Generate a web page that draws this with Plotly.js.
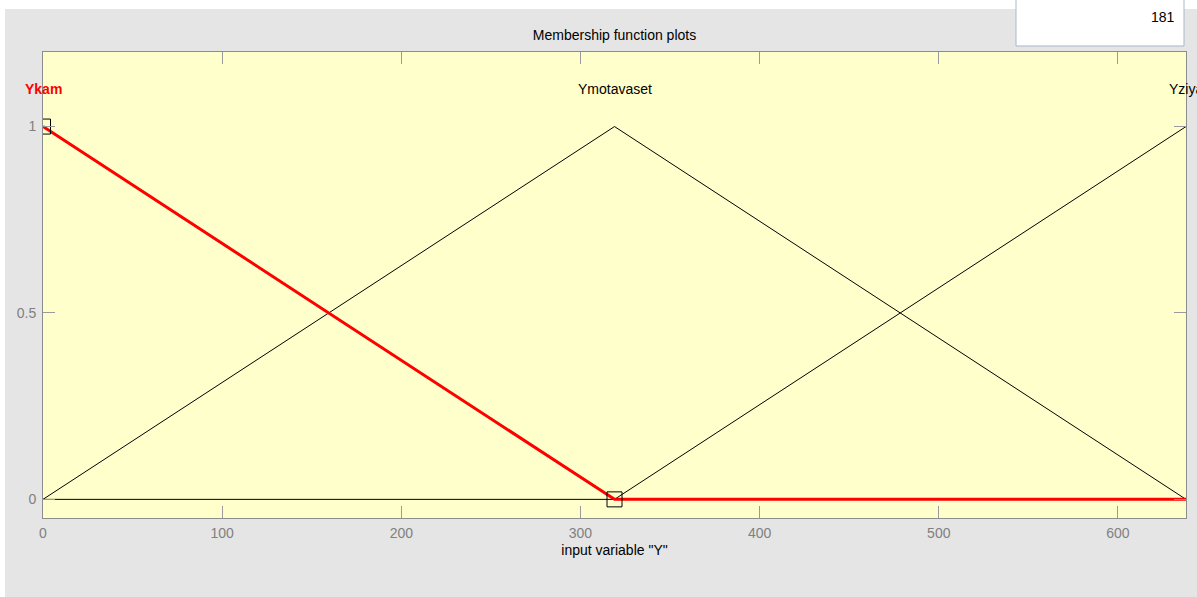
<!DOCTYPE html>
<html>
<head>
<meta charset="utf-8">
<script src="https://cdn.plot.ly/plotly-3.0.1.min.js"></script>
<style>
  html, body { margin: 0; padding: 0; background: #ffffff; }
  #chart { width: 1197px; height: 597px; }
</style>
</head>
<body>
<div id="chart"></div>
<script>
// Membership functions of the input variable "Y" (triangular, defined by vertices)
const mfNames = ['Ykam', 'Ymotavaset', 'Yziya'];
const mfX = [0, 319, 638];
const ykamY = [1, 0, 0];
const ymotavasetY = [0, 1, 0];
const yziyaY = [0, 0, 1];

// Vertices of the selected function (Ykam) that carry the edit handles
const handleX = [0, 319];
const handleY = [1, 0];

const xTicks = [0, 100, 200, 300, 400, 500, 600];
const yTicks = [0, 0.5, 1];
const yTickText = ['0', '0.5', '1'];
const pointCount = '181';

const W = 1197, H = 597;
const M = { l: 43, r: 11, t: 52, b: 79 };
const plotW = W - M.l - M.r, plotH = H - M.t - M.b;
// pixel -> paper coordinates helpers
const px = v => (v - M.l) / plotW;
const py = v => (H - M.b - v) / plotH;

const FONT = '"Liberation Sans", Arial, sans-serif';
const FS = 14;

const traces = [
  { x: mfX, y: yziyaY, name: mfNames[2], mode: 'lines',
    line: { color: '#000000', width: 1 } },
  { x: mfX, y: ymotavasetY, name: mfNames[1], mode: 'lines',
    line: { color: '#000000', width: 1 } },
  { x: mfX, y: ykamY, name: mfNames[0], mode: 'lines',
    line: { color: '#ff0000', width: 3 } },
  { x: handleX, y: handleY, mode: 'markers',
    marker: { symbol: 'square-open', size: 15, color: '#000000', line: { width: 1, color: '#000000' } } }
];

const annotations = [
  { x: mfX[0], y: 1.1, text: '<b>' + mfNames[0] + '</b>', font: { color: '#ff0000', size: FS } },
  { x: mfX[1], y: 1.1, text: mfNames[1], font: { color: '#000000', size: FS } },
  { x: mfX[2], y: 1.1, text: mfNames[2], font: { color: '#000000', size: FS } }
].map(a => Object.assign({ xref: 'x', yref: 'y', showarrow: false, xanchor: 'center', yanchor: 'middle' }, a));

annotations.push({
  xref: 'paper', yref: 'paper', x: px(1177), y: py(17), xanchor: 'right', yanchor: 'middle',
  text: pointCount, showarrow: false, font: { color: '#000000', size: FS }
});

const shapes = [
  // grey panel behind the figure
  { type: 'rect', xref: 'paper', yref: 'paper', layer: 'below',
    x0: px(5), x1: px(W + 5), y0: py(H + 5), y1: py(9),
    fillcolor: '#e5e5e5', line: { width: 0 } },
  // pale yellow axes area
  { type: 'rect', xref: 'paper', yref: 'paper', layer: 'below',
    x0: 0, x1: 1, y0: 0, y1: 1,
    fillcolor: '#ffffcc', line: { width: 0 } },
  // point-count edit box
  { type: 'rect', xref: 'paper', yref: 'paper', layer: 'above',
    x0: px(1016), x1: px(1184), y0: py(46), y1: py(-5),
    fillcolor: '#ffffff', line: { color: '#a7b7cd', width: 1 } }
];

const axisCommon = {
  showgrid: false, zeroline: false, showline: true, mirror: 'ticks',
  linecolor: '#8c8c8c', linewidth: 1,
  ticks: 'inside', ticklen: 12, tickcolor: '#9a9a9a', tickwidth: 1,
  tickfont: { family: FONT, size: FS, color: '#808080' }
};

const layout = {
  width: W, height: H,
  margin: M,
  paper_bgcolor: '#ffffff',
  plot_bgcolor: 'rgba(0,0,0,0)',
  showlegend: false,
  font: { family: FONT, size: FS, color: '#000000' },
  title: {
    text: 'Membership function plots',
    font: { family: FONT, size: FS, color: '#000000' },
    xref: 'paper', x: 0.5, xanchor: 'center',
    yref: 'container', y: 1 - 35 / H, yanchor: 'middle'
  },
  xaxis: Object.assign({}, axisCommon, {
    range: [0, 638], tickvals: xTicks, ticklabelstandoff: 2,
    title: { text: 'input variable "Y"', font: { family: FONT, size: FS, color: '#000000' }, standoff: 5 }
  }),
  yaxis: Object.assign({}, axisCommon, {
    range: [-0.05, 1.2], tickvals: yTicks, ticktext: yTickText, ticklabelstandoff: 3
  }),
  annotations: annotations,
  shapes: shapes
};

Plotly.newPlot('chart', traces, layout, { displayModeBar: false, staticPlot: true });
</script>
</body>
</html>
